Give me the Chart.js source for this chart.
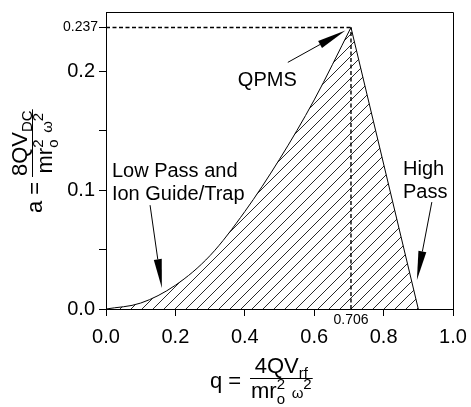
<!DOCTYPE html>
<html>
<head>
<meta charset="utf-8">
<script src="https://cdn.jsdelivr.net/npm/chart.js@4.4.1/dist/chart.umd.min.js"></script>
<style>
  html, body { margin: 0; padding: 0; background: #fff; }
  canvas { display: block; }
</style>
</head>
<body>
<canvas id="myChart" width="471" height="407"></canvas>
<script>
// stability diagram values
const peakQ = 0.706;
const peakA = 0.237;
const lowerQ = [0, 0.1, 0.2, 0.3, 0.4, 0.5, 0.6, peakQ];
const lowerA = [0, 0.005, 0.020, 0.045, 0.082, 0.126, 0.176, peakA];
const upperQ = [peakQ, 0.9];
const upperA = [peakA, 0];
const xTicks = [0, 0.2, 0.4, 0.6, 0.8, 1.0];
const xTickLabels = ['0.0', '0.2', '0.4', '0.6', '0.8', '1.0'];
const yTicks = [0, 0.05, 0.1, 0.15, 0.2];
const yTickLabels = ['0.0', '', '0.1', '', '0.2'];

const FONT = '"Liberation Sans", Arial, sans-serif';

// hatch pattern "////"
function hatch() {
  const p = 11;
  const c = document.createElement('canvas');
  c.width = p; c.height = p;
  const g = c.getContext('2d');
  g.strokeStyle = '#111';
  g.lineWidth = 0.9;
  g.beginPath();
  g.moveTo(0, p); g.lineTo(p, 0);
  g.moveTo(-2, 2); g.lineTo(2, -2);
  g.moveTo(p - 2, p + 2); g.lineTo(p + 2, p - 2);
  g.stroke();
  return g.createPattern(c, 'repeat');
}
const pattern = hatch();

const pts = (xs, ys) => xs.map((v, i) => ({ x: v, y: ys[i] }));

const data = {
  datasets: [
    {
      data: pts([0, peakQ], [peakA, peakA]),
      borderColor: '#000', borderWidth: 1.4, borderDash: [4, 2.5],
      fill: false, pointRadius: 0
    },
    {
      data: pts([peakQ, peakQ], [0, peakA]),
      borderColor: '#000', borderWidth: 1.4, borderDash: [4, 2.5],
      fill: false, pointRadius: 0
    },
    {
      data: pts(lowerQ, lowerA),
      borderColor: '#000', borderWidth: 1,
      backgroundColor: pattern, fill: 'origin',
      cubicInterpolationMode: 'monotone', pointRadius: 0
    },
    {
      data: pts(upperQ, upperA),
      borderColor: '#000', borderWidth: 1,
      backgroundColor: pattern, fill: 'origin',
      tension: 0, pointRadius: 0
    }
  ]
};

// text runs: plain text, or a stacked sub/superscript pair
function runs(ctx, list, x, y, draw) {
  let u = x;
  for (const r of list) {
    ctx.font = r.s + 'px ' + FONT;
    if (r.sub !== undefined) {
      const w = Math.max(ctx.measureText(r.sub).width, ctx.measureText(r.sup).width);
      if (draw) {
        ctx.fillText(r.sub, u, y + r.subDy);
        ctx.fillText(r.sup, u, y + r.supDy);
      }
      u += w;
    } else {
      if (draw) ctx.fillText(r.t, u, y + (r.dy || 0));
      u += ctx.measureText(r.t).width;
    }
  }
  return u - x;
}

function equation(ctx, lhs, num, den, lineStart) {
  ctx.textAlign = 'left';
  ctx.textBaseline = 'alphabetic';
  runs(ctx, lhs, 0, 10, true);
  const nw = runs(ctx, num, 0, 0, false);
  const dw = runs(ctx, den, 0, 0, false);
  const w = Math.max(nw, dw) + 2;
  runs(ctx, num, lineStart + (w - nw) / 2, -5, true);
  runs(ctx, den, lineStart + (w - dw) / 2, 20, true);
  ctx.lineWidth = 1;
  ctx.beginPath();
  ctx.moveTo(lineStart, 0.5);
  ctx.lineTo(lineStart + w, 0.5);
  ctx.stroke();
}

function arrow(ctx, x0, y0, x1, y1, len, half) {
  const dx = x1 - x0, dy = y1 - y0;
  const d = Math.hypot(dx, dy);
  const ux = dx / d, uy = dy / d;
  const bx = x1 - ux * len, by = y1 - uy * len;
  ctx.lineWidth = 1;
  ctx.beginPath();
  ctx.moveTo(x0, y0); ctx.lineTo(bx, by);
  ctx.stroke();
  ctx.beginPath();
  ctx.moveTo(x1, y1);
  ctx.lineTo(bx - uy * half, by + ux * half);
  ctx.lineTo(bx + uy * half, by - ux * half);
  ctx.closePath();
  ctx.fill();
}

const notes = [
  { lines: ['QPMS'], q: 0.380, a: 0.188, from: [0.524, 0.2076], to: [0.690, 0.2345] },
  { lines: ['Low Pass and', 'Ion Guide/Trap'], q: 0.017, a: 0.111, from: [0.127, 0.0874], to: [0.161, 0.0176] },
  { lines: ['High', 'Pass'], q: 0.856, a: 0.1126, from: [0.939, 0.090], to: [0.896, 0.0244] }
];

const overlay = {
  id: 'overlay',
  afterDraw(chart) {
    const { ctx, chartArea: ca } = chart;
    const sx = chart.scales.x, sy = chart.scales.y;
    ctx.save();
    ctx.strokeStyle = '#000';
    ctx.fillStyle = '#000';

    // box top + right
    ctx.lineWidth = 1;
    ctx.beginPath();
    ctx.moveTo(ca.left, Math.round(ca.top) + 0.5);
    ctx.lineTo(Math.round(ca.right) + 0.5, Math.round(ca.top) + 0.5);
    ctx.lineTo(Math.round(ca.right) + 0.5, ca.bottom);
    ctx.stroke();

    // peak markers
    const py = sy.getPixelForValue(peakA);
    const px = sx.getPixelForValue(peakQ);
    ctx.beginPath();
    ctx.moveTo(ca.left - 7, Math.round(py) + 0.5);
    ctx.lineTo(ca.left, Math.round(py) + 0.5);
    ctx.stroke();
    ctx.font = '14px ' + FONT;
    ctx.textAlign = 'right';
    ctx.textBaseline = 'middle';
    ctx.fillText(peakA.toFixed(3), ca.left - 8, py);
    ctx.textAlign = 'center';
    ctx.textBaseline = 'top';
    ctx.fillText(peakQ.toFixed(3), px, ca.bottom + 4);

    // annotations
    ctx.font = '20px ' + FONT;
    ctx.textAlign = 'left';
    ctx.textBaseline = 'alphabetic';
    for (const n of notes) {
      const tx = sx.getPixelForValue(n.q), ty = sy.getPixelForValue(n.a);
      n.lines.forEach((l, i) => ctx.fillText(l, tx, ty + i * 23));
      arrow(ctx, sx.getPixelForValue(n.from[0]), sy.getPixelForValue(n.from[1]),
        sx.getPixelForValue(n.to[0]), sy.getPixelForValue(n.to[1]), 29, 4);
    }

    // axis titles
    const den = [
      { t: 'mr', s: 22 },
      { sub: 'o', sup: '2', s: 15, subDy: 6, supDy: -9 },
      { t: '  ', s: 12 },
      { t: 'ω', s: 15 },
      { t: '2', s: 15, dy: -9 }
    ];
    ctx.save();
    ctx.translate(ca.left + 104, ca.bottom + 69);
    equation(ctx, [{ t: 'q =', s: 22 }], [{ t: '4QV', s: 22 }, { t: 'rf', s: 15, dy: 5 }], den, 40);
    ctx.restore();

    ctx.save();
    ctx.translate(ca.left - 74, ca.top + 201);
    ctx.rotate(-Math.PI / 2);
    equation(ctx, [{ t: 'a =', s: 22 }], [{ t: '8QV', s: 22 }, { t: 'DC', s: 15, dy: 5 }], den, 36);
    ctx.restore();

    ctx.restore();
  }
};

const tickFont = { family: FONT, size: 20 };

const config = {
  type: 'line',
  data: data,
  options: {
    responsive: false,
    animation: false,
    layout: { padding: { top: 12, right: 18, left: 0, bottom: 0 } },
    plugins: { legend: { display: false }, tooltip: { enabled: false } },
    scales: {
      x: {
        type: 'linear', min: 0, max: 1,
        afterBuildTicks: s => { s.ticks = xTicks.map(v => ({ value: v })); },
        afterFit: s => { s.height = 98; s.paddingLeft = 0; s.paddingRight = 0; },
        ticks: { callback: (v, i) => xTickLabels[i], font: tickFont, color: '#000', padding: 9, maxRotation: 0, autoSkip: false },
        grid: { drawOnChartArea: false, tickLength: 7, color: '#000' },
        border: { color: '#000', width: 1 }
      },
      y: {
        min: 0, max: 0.25,
        afterBuildTicks: s => { s.ticks = yTicks.map(v => ({ value: v })); },
        afterFit: s => { s.width = 106; s.paddingTop = 0; s.paddingBottom = 0; },
        ticks: { callback: (v, i) => yTickLabels[i], font: tickFont, color: '#000', padding: 4, autoSkip: false },
        grid: { drawOnChartArea: false, tickLength: 7, color: '#000' },
        border: { color: '#000', width: 1 }
      }
    }
  },
  plugins: [overlay]
};

const myChart = new Chart(document.getElementById('myChart'), config);
</script>
</body>
</html>
